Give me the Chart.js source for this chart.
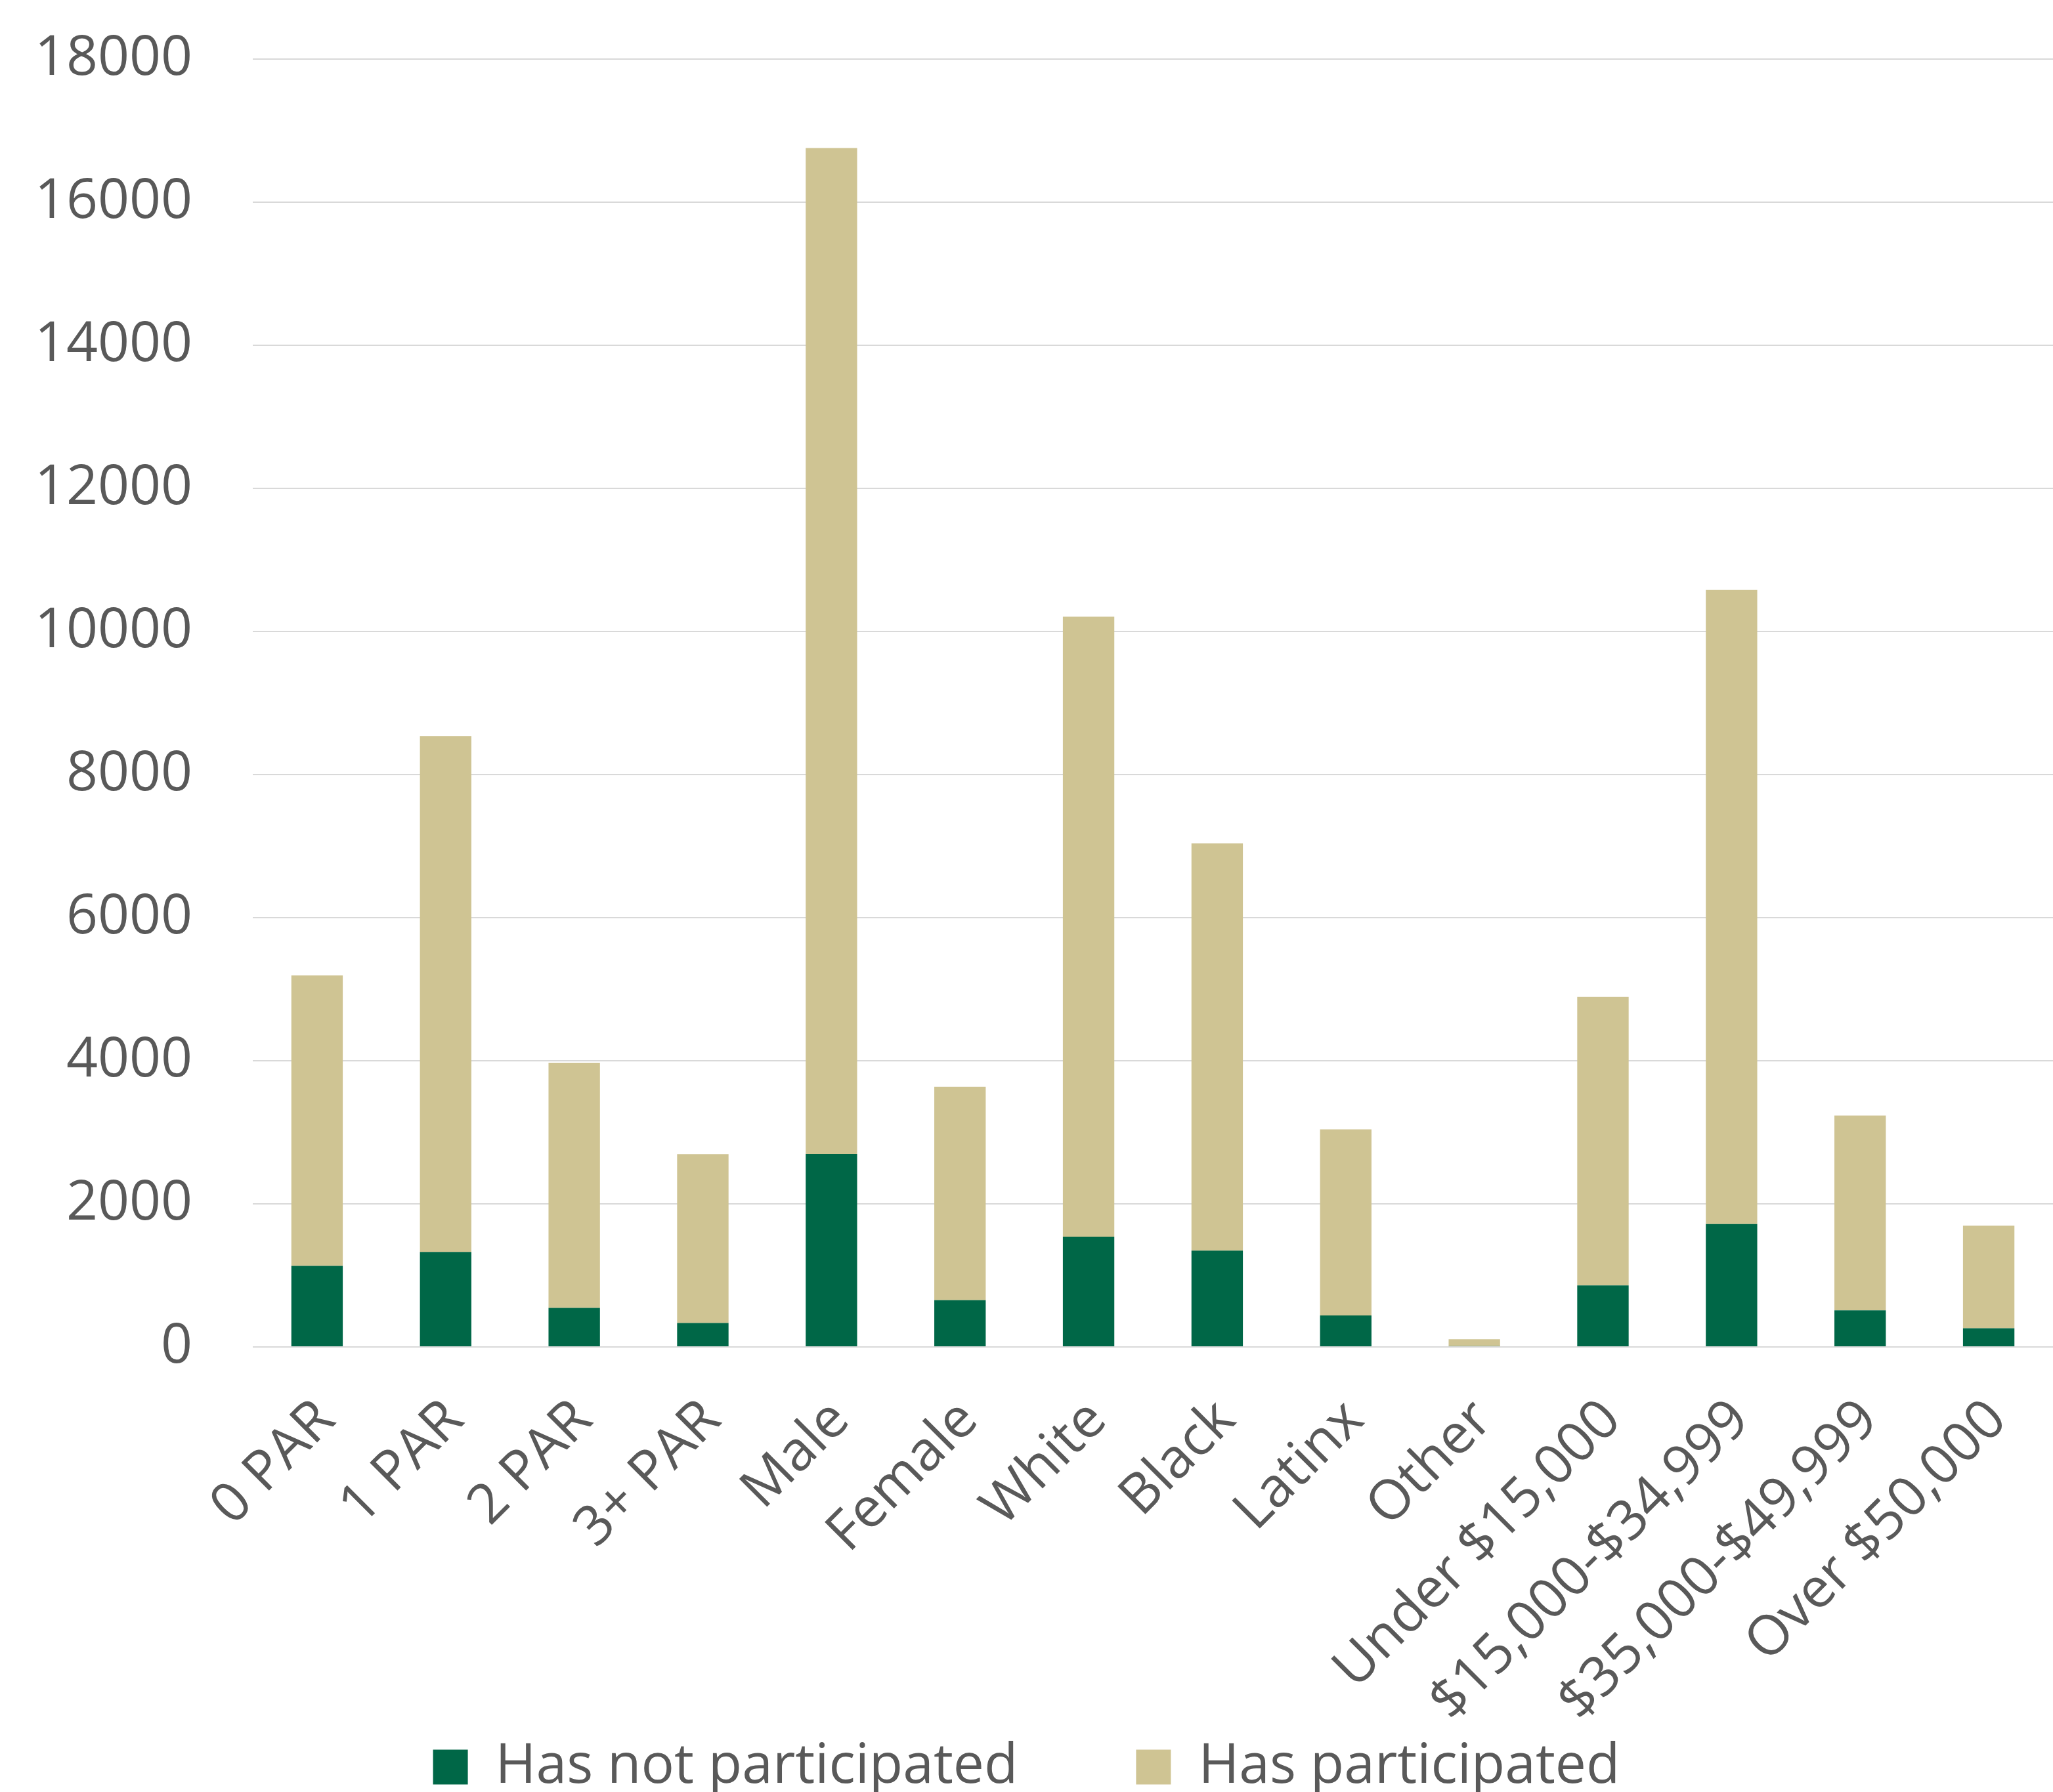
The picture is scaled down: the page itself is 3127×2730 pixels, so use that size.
<!DOCTYPE html>
<html lang="en">
<head>
  <meta charset="UTF-8" />
  <title>Participation by group</title>
  <script src="https://cdn.jsdelivr.net/npm/chart.js"></script>
  <style>
    html, body { margin: 0; padding: 0; background: #fff; }
    #frame { width: 3127px; height: 2730px; overflow: hidden; }
  </style>
</head>
<body>
  <div id="frame">
    <canvas id="chart" width="3127" height="2744"></canvas>
  </div>

  <script>
    const categories = ["0 PAR", "1 PAR", "2 PAR", "3+ PAR", "Male", "Female", "White", "Black", "Latinx", "Other",
                        "Under $15,000", "$15,000-$34,999", "$35,000-$49,999", "Over $50,000"];
    const hasNotParticipated = [1133, 1329, 547, 334, 2697, 654, 1542, 1346, 441, 12, 859, 1718, 512, 262];
    const hasParticipated = [4059, 7211, 3425, 2360, 14060, 2981, 8664, 5693, 2600, 95, 4034, 8862, 2722, 1432];
    const yTicks = [0, 2000, 4000, 6000, 8000, 10000, 12000, 14000, 16000, 18000];

    const textColor = "#595959";
    const font = { family: "'Open Sans', sans-serif", size: 84 };

    // long rotated category labels run past the axis box into the legend band, so don't clip them
    const unclipLabels = {
      id: "unclipLabels",
      beforeDraw(chart) { chart.scales.x._computeLabelArea = () => undefined; }
    };

    new Chart(document.getElementById("chart"), {
      type: "bar",
      data: {
        labels: categories,
        datasets: [
          { label: "Has not participated", data: hasNotParticipated, backgroundColor: "#006747" },
          { label: "Has participated", data: hasParticipated, backgroundColor: "#CFC493" }
        ]
      },
      plugins: [unclipLabels],
      options: {
        responsive: false,
        animation: false,
        layout: { padding: { top: 90, left: 0, right: 0, bottom: 0 } },
        datasets: { bar: { barPercentage: 0.4, categoryPercentage: 1.0 } },
        plugins: {
          tooltip: { enabled: false },
          legend: {
            position: "bottom",
            labels: { font, color: textColor, boxWidth: 53, boxHeight: 53, padding: 180 }
          }
        },
        scales: {
          x: {
            stacked: true,
            grid: { display: false },
            border: { display: false },
            ticks: { font, color: textColor, autoSkip: false, maxRotation: 45, minRotation: 45, padding: 54, labelOffset: 14 },
            afterFit: s => { s.height = 418; s.paddingLeft = 0; s.paddingRight = 0; }
          },
          y: {
            stacked: true,
            min: 0,
            max: yTicks[yTicks.length - 1],
            afterBuildTicks: s => { s.ticks = yTicks.map(v => ({ value: v })); },
            grid: { color: "#d9d9d9", lineWidth: 2, drawTicks: false },
            border: { display: false },
            ticks: { font, color: textColor, padding: 92, callback: v => String(v) },
            afterFit: s => { s.width = 385; s.paddingTop = 0; s.paddingBottom = 0; }
          }
        }
      }
    });
  </script>
</body>
</html>
